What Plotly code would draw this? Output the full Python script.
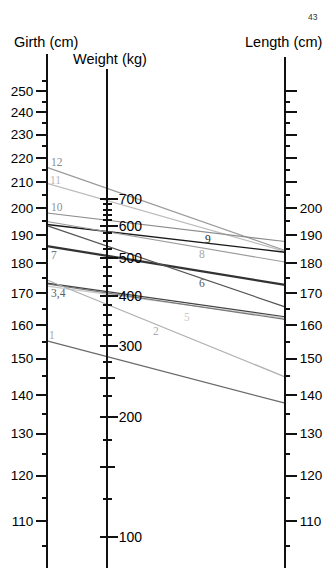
import math
import plotly.graph_objects as go

W, H = 325, 568

# ---------------- data ----------------
line_ids = ["12", "11", "10", "9", "8", "7", "6", "5", "4", "3", "2", "1"]
girth_start = [216.1, 209.6, 198.1, 193.8, 194.9, 186.0, 193.4, 172.3, 173.0, 173.3, 174.3, 155.2]
length_end = [184.4, 184.1, 187.6, 183.8, 180.4, 172.7, 165.6, 162.1, 161.7, 162.5, 144.9, 137.8]

girth_major = [110, 120, 130, 140, 150, 160, 170, 180, 190, 200, 210, 220, 230, 240, 250]
girth_minor = [105, 115, 125, 135, 145, 155, 165, 175, 185, 195, 205, 215, 225, 235, 245, 255]
length_major = [110, 120, 130, 140, 150, 160, 170, 180, 190, 200, 210, 220, 230, 240, 250]
length_labels = ["110", "120", "130", "140", "150", "160", "170", "180", "190", "200", "", "", "", "", ""]
length_minor = [105, 115, 125, 135, 145, 155, 165, 175, 185, 195, 205, 215, 225, 235, 245]
weight_major = [100, 200, 300, 400, 500, 600, 700]
weight_mid = [150, 250]
weight_minor = [125, 175, 225, 275, 320, 340, 360, 380, 425, 450, 475, 525, 550, 575,
                620, 640, 660, 680]

# ---------------- styling ----------------
line_colors = {"12": "#9a9a9a", "11": "#bdbdbd", "10": "#8c8c8c", "9": "#1a1a1a",
               "8": "#9c9c9c", "7": "#333333", "6": "#555555", "5": "#c8c8c8",
               "4": "#777777", "3": "#444444", "2": "#b0b0b0", "1": "#6a6a6a"}
line_widths = {"7": 2.3, "9": 1.4}

GX, WX, LX = 47, 107, 285          # pixel x of girth, weight, length axes
G_TOP, W_TOP, L_TOP = 54, 69, 56.7  # pixel y where axes start

# pixel mapping of the log scales (y_px = a - b*ln v)
GA, GB = 2984.3, 524.0
WA, WB = 1337.2, 173.7


def log_range(a, b, top_px):
    lo = (a - H) / b / math.log(10)
    hi = (a - top_px) / b / math.log(10)
    return [lo, hi]


fig = go.Figure()

for lid, g, l in zip(line_ids, girth_start, length_end):
    fig.add_trace(go.Scatter(
        x=[GX, LX], y=[g, l], mode="lines", xaxis="x", yaxis="y",
        line=dict(color=line_colors[lid], width=line_widths.get(lid, 1.2)),
        hoverinfo="skip", showlegend=False))

# invisible traces to attach the extra axes
for ax in ["y2", "y3", "y4", "y5"]:
    fig.add_trace(go.Scatter(x=[None], y=[None], xaxis="x", yaxis=ax,
                             showlegend=False, hoverinfo="skip"))

tickfont = dict(family="Liberation Sans, Arial, sans-serif", size=13.5, color="#000")
common = dict(type="log", showgrid=False, zeroline=False, anchor="free",
              linecolor="#111", linewidth=2, tickcolor="#111", tickwidth=2,
              automargin=False, fixedrange=True)

fig.update_layout(
    width=W, height=H, autosize=False,
    margin=dict(l=0, r=0, t=0, b=0),
    paper_bgcolor="white", plot_bgcolor="rgba(0,0,0,0)",
    showlegend=False,
    xaxis=dict(range=[0, W], visible=False, domain=[0, 1], fixedrange=True),
    yaxis=dict(**common, domain=[0, (H - G_TOP) / H], range=log_range(GA, GB, G_TOP),
               position=GX / W, side="left", showline=True, ticks="outside", ticklen=10,
               tickmode="array", tickvals=girth_major, ticktext=[str(v) for v in girth_major],
               tickfont=tickfont,
               minor=dict(tickmode="array", tickvals=girth_minor, ticks="outside",
                          ticklen=4, tickwidth=2, tickcolor="#111")),
    yaxis3=dict(**common, domain=[0, (H - L_TOP) / H], range=log_range(GA, GB, L_TOP),
                position=LX / W, side="right", showline=True, ticks="outside", ticklen=11,
                tickmode="array", tickvals=length_major, ticktext=length_labels,
                tickfont=tickfont,
                minor=dict(tickmode="array", tickvals=length_minor, ticks="outside",
                           ticklen=4, tickwidth=2, tickcolor="#111")),
    yaxis2=dict(**common, domain=[0, (H - W_TOP) / H], range=log_range(WA, WB, W_TOP),
                position=WX / W, side="right", showline=True, ticks="outside", ticklen=10,
                tickmode="array", tickvals=weight_major, ticktext=[str(v) for v in weight_major],
                tickfont=dict(family="Liberation Sans, Arial, sans-serif", size=14, color="#000"),
                ticklabelstandoff=-2,
                minor=dict(tickmode="array", tickvals=weight_minor + weight_mid, ticks="outside",
                           ticklen=4, tickwidth=2, tickcolor="#111")),
)
fig.update_layout(
    yaxis4=dict(**{k: v for k, v in common.items() if k != "anchor"}, anchor="free",
                overlaying="y2", range=log_range(WA, WB, W_TOP),
                position=WX / W, side="right", showline=False, ticks="inside", ticklen=7,
                tickmode="array", tickvals=weight_major + weight_mid, showticklabels=False,
                minor=dict(tickmode="array", tickvals=weight_minor, ticks="inside",
                           ticklen=4, tickwidth=2, tickcolor="#111")),
    yaxis5=dict(**{k: v for k, v in common.items() if k != "anchor"}, anchor="free",
                overlaying="y2", range=log_range(WA, WB, W_TOP),
                position=WX / W, side="right", showline=False, ticks="outside", ticklen=7,
                tickmode="array", tickvals=weight_mid, showticklabels=False),
)

# axis titles
title_font = dict(family="Liberation Sans, Arial, sans-serif", size=14.5, color="#000")
for txt, xp, yp in [("Girth (cm)", 45.5, 42), ("Weight (kg)", 110, 59), ("Length (cm)", 283, 42)]:
    fig.add_annotation(text=txt, xref="paper", yref="paper", x=xp / W, y=1 - yp / H,
                       xanchor="center", yanchor="middle", showarrow=False, font=title_font)
fig.add_annotation(text="43", xref="paper", yref="paper", x=313 / W, y=1 - 17 / H,
                   xanchor="center", yanchor="middle", showarrow=False,
                   font=dict(family="Liberation Sans, Arial, sans-serif", size=8.5, color="#333"))

# line labels near the girth axis: (text, line id, x offset px, y shift px, colour)
label_font = "Liberation Serif, Times New Roman, serif"
start_labels = [("12", "12", 9.5, 5, "#8a8a8a"), ("11", "11", 8, 3, "#b8b8b8"),
                ("10", "10", 9.5, 6, "#909090"), ("7", "7", 6.5, -9, "#707070"),
                ("3,4", "3", 11, -10, "#606060"), ("1", "1", 4.5, 6, "#a8a8a8")]
for txt, lid, dx, dy, col in start_labels:
    i = line_ids.index(lid)
    fig.add_annotation(text=txt, x=GX, y=math.log10(girth_start[i]), xref="x", yref="y",
                       xshift=dx, yshift=dy, showarrow=False, xanchor="center", yanchor="middle",
                       font=dict(family=label_font, size=11.5, color=col))

# labels along the lines: (text, fraction along the line, y shift px, colour)
mid_labels = [("9", 0.678, 4.5, "#222222"), ("8", 0.65, -6.5, "#a8a8a8"),
              ("6", 0.65, -5, "#555555"), ("5", 0.587, -12.5, "#cccccc"),
              ("2", 0.458, -6.5, "#aaaaaa")]
for txt, t, dy, col in mid_labels:
    i = line_ids.index(txt)
    ly = (1 - t) * math.log10(girth_start[i]) + t * math.log10(length_end[i])
    fig.add_annotation(text=txt, x=GX + t * (LX - GX), y=ly, xref="x", yref="y",
                       yshift=dy, showarrow=False, xanchor="center", yanchor="middle",
                       font=dict(family=label_font, size=11.5, color=col))

fig.write_html("out.html", include_plotlyjs=True, full_html=True,
               config={"displayModeBar": False, "staticPlot": True},
               post_script="document.body.style.margin='0';")
